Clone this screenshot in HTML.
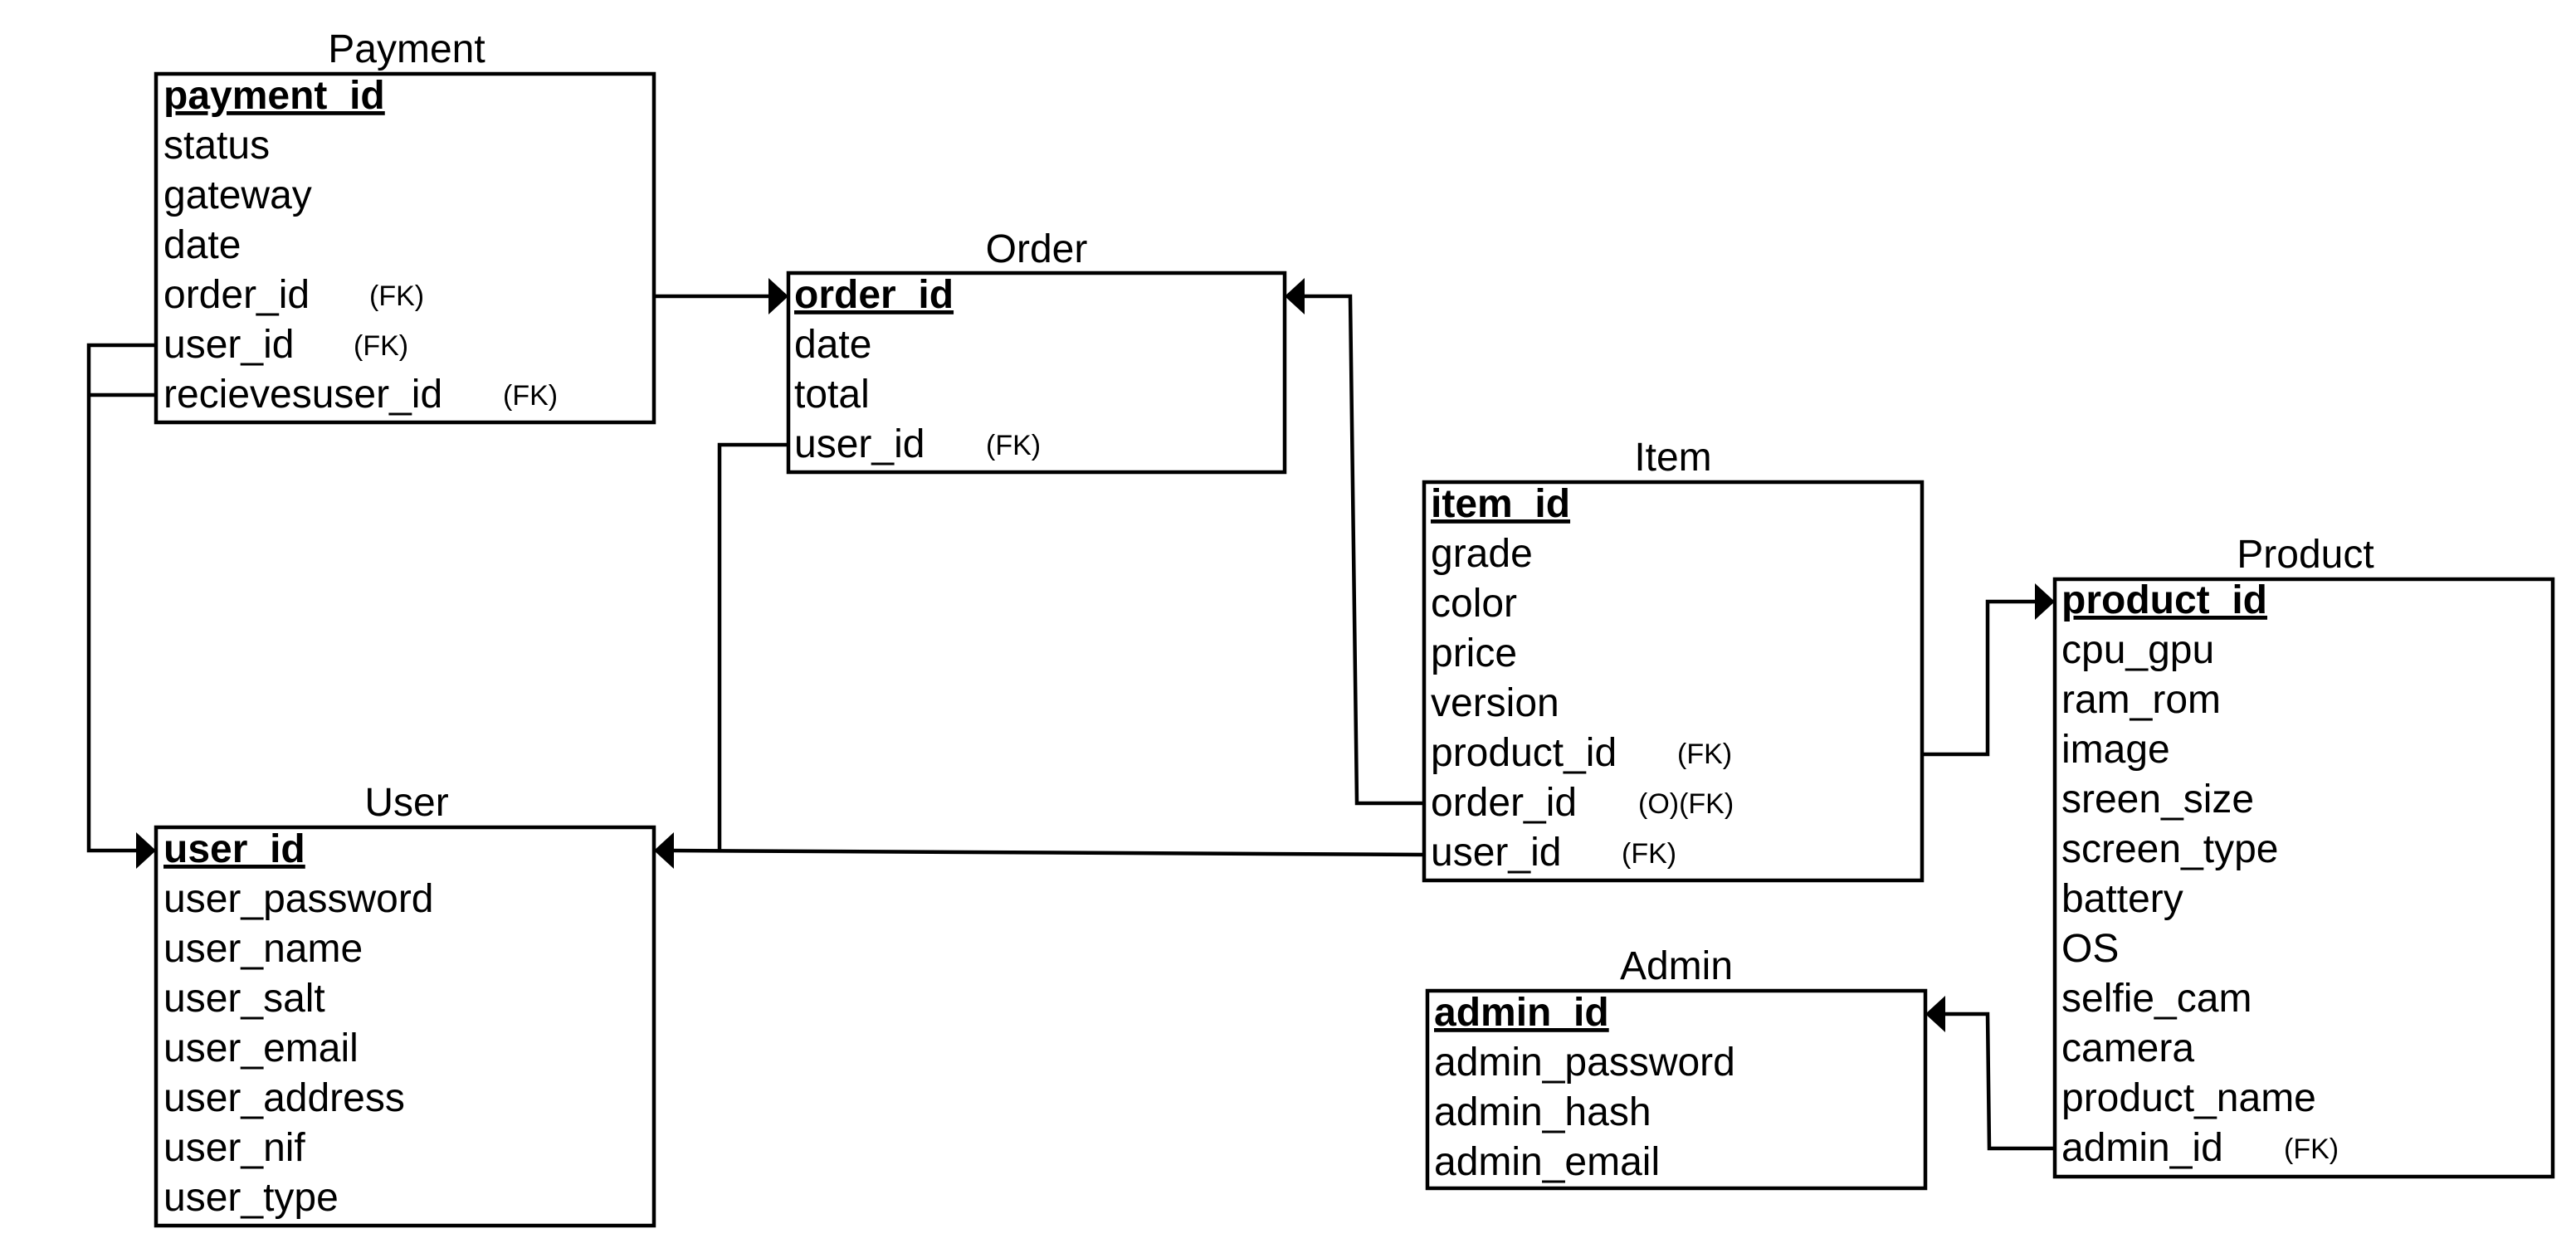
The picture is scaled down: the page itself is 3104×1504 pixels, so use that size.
<!DOCTYPE html>
<html><head><meta charset="utf-8"><style>
html,body{margin:0;padding:0;background:#fff;}
svg{display:block;}
text{font-family:"Liberation Sans",Arial,sans-serif;fill:#000;}
.t{font-size:48px;}
.f{font-size:34px;}
.b{font-size:48px;font-weight:bold;text-decoration:underline;}
</style></head><body>
<svg width="3104" height="1504" viewBox="0 0 3104 1504" xmlns="http://www.w3.org/2000/svg">
<g fill="none" stroke="#000" stroke-width="4.5">
<rect x="188" y="89" width="600" height="420"/>
<rect x="950" y="329" width="598" height="240"/>
<rect x="1716" y="581" width="600" height="480"/>
<rect x="2476" y="698" width="600" height="720"/>
<rect x="1720" y="1194" width="600" height="238"/>
<rect x="188" y="997" width="600" height="480"/>
<polyline points="788,357 930,357"/>
<polyline points="188,416 107,416 107,1025 168,1025"/>
<polyline points="188,476 107,476"/>
<polyline points="950,536 867,536 867,1025"/>
<polyline points="1716,1030 808,1025"/>
<polyline points="1716,968 1635,968 1627,357 1568,357"/>
<polyline points="2316,909 2395,909 2395,725 2456,725"/>
<polyline points="2476,1384 2397,1384 2395,1222 2340,1222"/>
</g>
<g fill="#000">
<polygon points="950,357 926,335 926,379"/>
<polygon points="188,1025 164,1003 164,1047"/>
<polygon points="788,1025 812,1003 812,1047"/>
<polygon points="1548,357 1572,335 1572,379"/>
<polygon points="2476,725 2452,703 2452,747"/>
<polygon points="2320,1222 2344,1200 2344,1244"/>
</g>
<g class="t" text-anchor="middle">
<text x="490" y="75">Payment</text>
<text x="1249" y="316">Order</text>
<text x="2016" y="567">Item</text>
<text x="2778" y="684">Product</text>
<text x="2020" y="1180">Admin</text>
<text x="490" y="983">User</text>
</g>
<g class="t">
<text class="b" x="197" y="131">payment_id</text>
<text x="197" y="191">status</text>
<text x="197" y="251">gateway</text>
<text x="197" y="311">date</text>
<text x="197" y="371">order_id</text>
<text x="197" y="431">user_id</text>
<text x="197" y="491">recievesuser_id</text>
</g>
<g class="f">
<text x="445" y="368">(FK)</text>
<text x="426" y="428">(FK)</text>
<text x="606" y="488">(FK)</text>
</g>
<g class="t">
<text class="b" x="957" y="371">order_id</text>
<text x="957" y="431">date</text>
<text x="957" y="491">total</text>
<text x="957" y="551">user_id</text>
</g>
<text class="f" x="1188" y="548">(FK)</text>
<g class="t">
<text class="b" x="1724" y="623">item_id</text>
<text x="1724" y="683">grade</text>
<text x="1724" y="743">color</text>
<text x="1724" y="803">price</text>
<text x="1724" y="863">version</text>
<text x="1724" y="923">product_id</text>
<text x="1724" y="983">order_id</text>
<text x="1724" y="1043">user_id</text>
</g>
<g class="f">
<text x="2021" y="920">(FK)</text>
<text x="1974" y="980">(O)(FK)</text>
<text x="1954" y="1040">(FK)</text>
</g>
<g class="t">
<text class="b" x="2484" y="739">product_id</text>
<text x="2484" y="799">cpu_gpu</text>
<text x="2484" y="859">ram_rom</text>
<text x="2484" y="919">image</text>
<text x="2484" y="979">sreen_size</text>
<text x="2484" y="1039">screen_type</text>
<text x="2484" y="1099">battery</text>
<text x="2484" y="1159">OS</text>
<text x="2484" y="1219">selfie_cam</text>
<text x="2484" y="1279">camera</text>
<text x="2484" y="1339">product_name</text>
<text x="2484" y="1399">admin_id</text>
</g>
<text class="f" x="2752" y="1396">(FK)</text>
<g class="t">
<text class="b" x="1728" y="1236">admin_id</text>
<text x="1728" y="1296">admin_password</text>
<text x="1728" y="1356">admin_hash</text>
<text x="1728" y="1416">admin_email</text>
</g>
<g class="t">
<text class="b" x="197" y="1039">user_id</text>
<text x="197" y="1099">user_password</text>
<text x="197" y="1159">user_name</text>
<text x="197" y="1219">user_salt</text>
<text x="197" y="1279">user_email</text>
<text x="197" y="1339">user_address</text>
<text x="197" y="1399">user_nif</text>
<text x="197" y="1459">user_type</text>
</g>
</svg>
</body></html>
